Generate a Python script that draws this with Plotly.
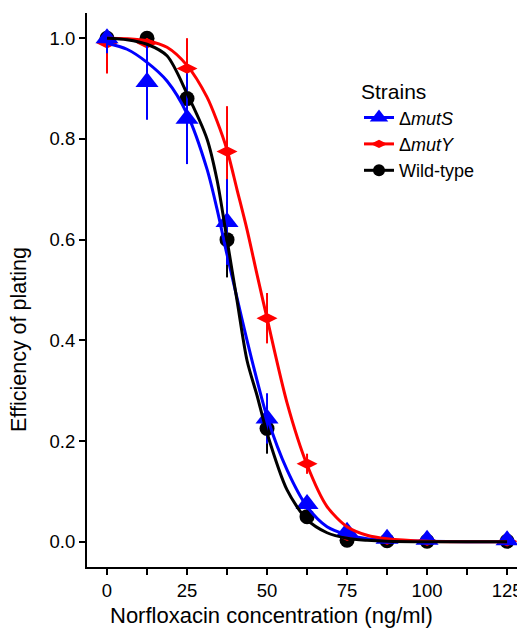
import plotly.graph_objects as go

# observed efficiency of plating (mean +/- error) per strain
conc = [0, 12.5, 25, 37.5, 50, 62.5, 75, 87.5, 100, 125]
muts_eop = [1.0, 0.913, 0.84, 0.635, 0.245, 0.075, 0.02, 0.006, 0.004, 0.003]
muts_err = [0.03, 0.075, 0.09, 0.085, 0.05, 0.012, 0.006, 0.002, 0.001, 0.001]
muty_eop = [0.99, 0.99, 0.94, 0.775, 0.444, 0.155, 0.012, 0.004, 0.002, 0.001]
muty_err = [0.06, 0.04, 0.062, 0.09, 0.05, 0.02, 0.005, 0.002, 0.001, 0.001]
wt_eop = [1.0, 1.0, 0.88, 0.60, 0.225, 0.05, 0.003, 0.002, 0.001, 0.001]
wt_err = [0.05, 0.06, 0.066, 0.075, 0.05, 0.01, 0.002, 0.001, 0.001, 0.001]

# fitted dose-response curves
fit_conc = [0, 6.25, 12.5, 18.75, 25, 31.25, 34.4, 37.5, 40.6, 43.75, 46.9, 50,
            56.25, 62.5, 68.75, 75, 81.25, 87.5, 100, 112.5, 125]
muts_fit = [0.99, 0.978, 0.952, 0.915, 0.85, 0.74, 0.66, 0.57, 0.485, 0.40, 0.32, 0.248,
            0.143, 0.07, 0.03, 0.014, 0.006, 0.003, 0.001, 0.0, 0.0]
muty_fit = [1.0, 0.999, 0.995, 0.982, 0.946, 0.883, 0.835, 0.778, 0.70, 0.62, 0.53, 0.444,
            0.276, 0.153, 0.07, 0.03, 0.013, 0.006, 0.001, 0.0, 0.0]
wt_fit = [1.0, 0.997, 0.988, 0.965, 0.89, 0.80, 0.718, 0.60, 0.48, 0.36, 0.29, 0.216,
          0.103, 0.044, 0.018, 0.007, 0.003, 0.001, 0.0, 0.0, 0.0]

strains = ["Δ<i>mutS</i>", "Δ<i>mutY</i>", "Wild-type"]
colors = ["#0000ff", "#ff0000", "#000000"]
symbols = ["triangle-up", "diamond-wide", "circle"]
sizes = [20, 15, 15]

FONT = "Liberation Sans, Arial, Helvetica, sans-serif"

fig = go.Figure()

obs = [(muts_eop, muts_err), (muty_eop, muty_err), (wt_eop, wt_err)]
fits = [muts_fit, muty_fit, wt_fit]

# points with error bars (upper bar capped at 1), wild-type underneath, mutS on top
for i in [2, 1, 0]:
    y, e = obs[i]
    up = [min(v + d, 1.0) - v for v, d in zip(y, e)]
    fig.add_trace(go.Scatter(
        x=conc, y=y, mode="markers", showlegend=False,
        marker=dict(symbol=symbols[i], size=sizes[i], color=colors[i]),
        error_y=dict(type="data", symmetric=False, array=up, arrayminus=e,
                     color=colors[i], thickness=2, width=0),
    ))

# fitted curves drawn over the points
for i in [0, 1, 2]:
    fig.add_trace(go.Scatter(
        x=fit_conc, y=fits[i], mode="lines", showlegend=False,
        line=dict(color=colors[i], width=3, shape="spline", smoothing=0.8),
    ))

# legend entries
for i in range(3):
    fig.add_trace(go.Scatter(
        x=[None], y=[None], mode="lines+markers", name=strains[i],
        marker=dict(symbol=symbols[i], size=sizes[i] - 3, color=colors[i]),
        line=dict(color=colors[i], width=3),
    ))

# the page body adds an 8px offset, so the margins are shifted to compensate
fig.update_layout(
    width=525, height=630,
    margin=dict(l=79, r=8, t=5, b=71),
    plot_bgcolor="white", paper_bgcolor="white",
    font=dict(family=FONT, size=18, color="black"),
    legend=dict(
        title=dict(text="Strains", font=dict(size=21)),
        x=0.621, y=0.8935, xanchor="left", yanchor="top",
        font=dict(size=18), bgcolor="rgba(0,0,0,0)",
        itemwidth=30, tracegroupgap=0,
    ),
    annotations=[
        dict(text="Norfloxacin concentration (ng/ml)", xref="paper", yref="paper",
             x=0.422, y=-0.062, xanchor="center", yanchor="top", showarrow=False,
             font=dict(size=22)),
        dict(text="Efficiency of plating", xref="paper", yref="paper",
             x=-0.155, y=0.41, xanchor="center", yanchor="middle", showarrow=False,
             textangle=-90, font=dict(size=21.5)),
    ],
)

fig.update_xaxes(
    range=[-6.25, 130.6], automargin=False,
    tickvals=[0, 12.5, 25, 37.5, 50, 62.5, 75, 87.5, 100, 112.5, 125],
    ticktext=["0", "", "25", "", "50", "", "75", "", "100", "", "125"],
    ticks="outside", ticklen=6, tickwidth=2, tickcolor="black",
    showline=True, linewidth=2, linecolor="black", mirror=False,
    showgrid=False, zeroline=False,
    tickfont=dict(size=18.5),
)
fig.update_yaxes(
    range=[-0.05, 1.05], automargin=False,
    tickvals=[0, 0.2, 0.4, 0.6, 0.8, 1.0],
    ticktext=["0.0", "0.2", "0.4", "0.6", "0.8", "1.0"],
    ticks="outside", ticklen=6, tickwidth=2, tickcolor="black",
    showline=True, linewidth=2, linecolor="black", mirror=False,
    showgrid=False, zeroline=False,
    tickfont=dict(size=18.5),
)

fig.write_html("out.html")
